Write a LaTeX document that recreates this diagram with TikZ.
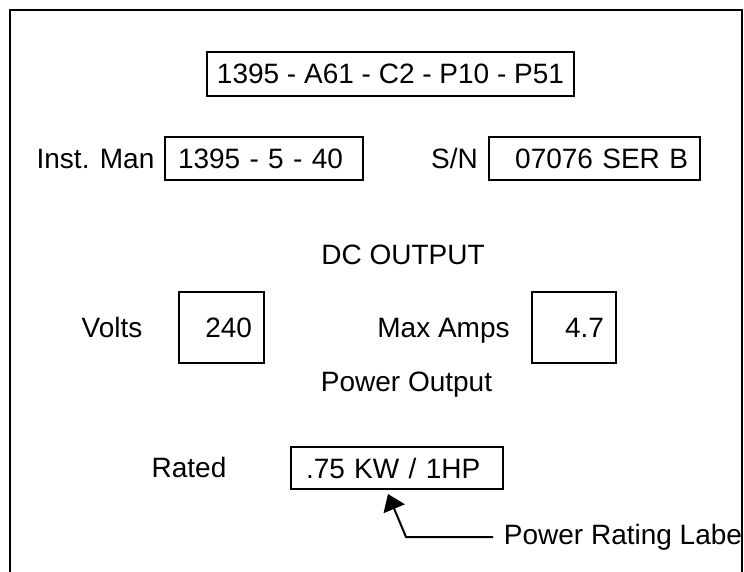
\documentclass[tikz,border=0pt]{standalone}
\usepackage{fontspec}
\setmainfont{Liberation Sans}
\usetikzlibrary{arrows.meta}

\begin{document}
\begin{tikzpicture}[x=0.75pt,y=-0.75pt,font=\fontsize{21}{25}\selectfont,
  tag/.style={draw,line width=1.5pt,inner ysep=0pt},
  lbl/.style={anchor=base}]
  \useasboundingbox (0,0) rectangle (744,572);
  \clip (0,0) rectangle (744,572);
  % outer frame, open at the bottom
  \draw[line width=1.5pt] (10,10) rectangle (742,620);

  \node[tag,minimum width=275pt,minimum height=33pt] (model) at (390.5,74) {1395 - A61 - C2 - P10 - P51};

  \node[lbl] (manlbl) at (95.5,168) {Inst. Man};
  \node[tag,minimum height=32.25pt,inner xsep=9.75pt,text width=129pt,align=left] (manual) at (264,158.5) {1395 - 5 - 40};
  \node[lbl] (snlbl) at (454.5,168) {S/N};
  \node[tag,minimum height=32.25pt,inner xsep=9pt,text width=140.25pt,align=right] (serial) at (594.5,158.5) {07076 SER B};

  \node[lbl] (dcout) at (403,264) {DC OUTPUT};
  \node[lbl] (voltlbl) at (112,337) {Volts};
  \node[tag,minimum height=53.25pt,inner xsep=9pt,text width=45.75pt,align=right] (volts) at (221.5,327.5) {240};
  \node[lbl] (amplbl) at (443.5,337) {Max Amps};
  \node[tag,minimum height=53.25pt,inner xsep=9pt,text width=45pt,align=right] (amps) at (574,327.5) {4.7};

  \node[lbl] (pwrout) at (406.5,391) {Power Output};
  \node[lbl] (ratedlbl) at (189,477) {Rated};
  \node[tag,minimum height=31.5pt,inner xsep=11.25pt,text width=136.5pt,align=left] (rated) at (397,468) {.75 KW / 1HP};

  % callout
  \node[anchor=west,inner xsep=8pt] (callout) at (493,537) {Power Rating Labe};
  \coordinate (bend) at (406,537);
  \coordinate (tip) at (388,494);
  \draw[line width=1.5pt,-{Triangle[length=12pt,width=17pt]}] (callout.west) -- (bend) -- (tip);
\end{tikzpicture}
\end{document}
